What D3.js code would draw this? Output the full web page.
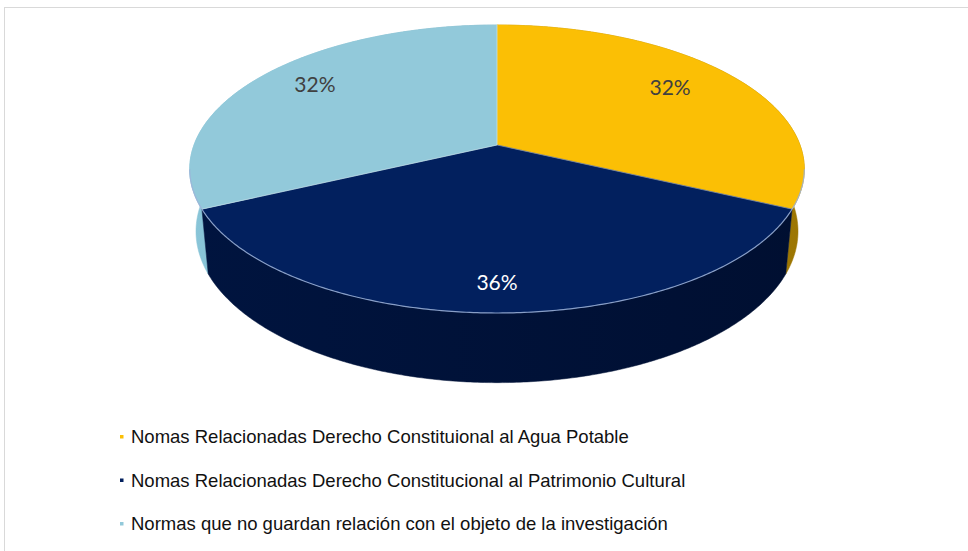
<!DOCTYPE html>
<html>
<head>
<meta charset="utf-8">
<script src="https://cdn.jsdelivr.net/npm/d3@7/dist/d3.min.js"></script>
<style>
  html, body { margin: 0; padding: 0; background: #ffffff; }
  svg { display: block; }
</style>
</head>
<body>
<svg id="chart" width="968" height="551"></svg>
<script>
// ---- data ----
const categories = [
  "Nomas Relacionadas Derecho Constituional al Agua Potable",
  "Nomas Relacionadas Derecho Constitucional al Patrimonio Cultural",
  "Normas que no guardan relación con el objeto de la investigación"
];
const values = [32, 36, 32];
const labels = ["32%", "36%", "32%"];

// ---- styles ----
const topColors  = ["#FBBF05", "#02205E", "#92C9DA"];
const sideColors = ["#B78A04", "#00123A", "#7DB4C6"];
const labelColors = ["#404040", "#ffffff", "#404040"];
const labelRadius = [0.72, 0.88, 0.76];

const svg = d3.select("#chart");

// outer frame
svg.append("rect")
  .attr("x", 4.5).attr("y", 7.5)
  .attr("width", 990).attr("height", 570)
  .attr("fill", "#ffffff")
  .attr("stroke", "#d9d9d9").attr("stroke-width", 1);

// ---- perspective projection of the 3D pie ----
const cx = 497, Y0 = 145;
const sinP = 0.462, cosP = Math.sqrt(1 - sinP * sinP);
const D = 6 * cosP, F = 303 * D, T = 0.234;
function proj(theta, r, y) {
  const u = r * Math.sin(theta), v = -r * Math.cos(theta);
  const depth = D - y * sinP - v * cosP;
  return [cx + F * u / depth, Y0 + F * (v * sinP - y * cosP) / depth];
}

const pie = d3.pie().sort(null).value(d => d)(values);

function rimPoints(a0, a1, y) {
  const n = Math.max(2, Math.ceil((a1 - a0) / 0.01));
  const pts = [];
  for (let i = 0; i <= n; i++) pts.push(proj(a0 + (a1 - a0) * i / n, 1, y));
  return pts;
}
const line = d3.line();

// side gradient defs
const defs = svg.append("defs");
pie.forEach((p, i) => {
  const g = defs.append("linearGradient").attr("id", "side" + i)
    .attr("gradientUnits", "userSpaceOnUse")
    .attr("x1", 190).attr("x2", 805).attr("y1", 0).attr("y2", 0);
  const c = d3.color(sideColors[i]);
  g.append("stop").attr("offset", "0%").attr("stop-color", c.brighter(0.25));
  g.append("stop").attr("offset", "100%").attr("stop-color", c.darker(0.45));
});

// outer walls (draw back first)
const walls = svg.append("g");
pie.map((p, i) => ({ p, i, mid: (p.startAngle + p.endAngle) / 2 }))
  .sort((a, b) => Math.abs(Math.PI - b.mid) - Math.abs(Math.PI - a.mid))
  .forEach(({ p, i }) => {
    const top = rimPoints(p.startAngle, p.endAngle, 0);
    const bot = rimPoints(p.startAngle, p.endAngle, -T).reverse();
    walls.append("path")
      .attr("d", line(top.concat(bot)) + "Z")
      .attr("fill", `url(#side${i})`)
      .attr("stroke", `url(#side${i})`).attr("stroke-width", 0.5);
  });

// top faces
const tops = svg.append("g");
const center = proj(0, 0, 0);
pie.forEach((p, i) => {
  const pts = [center].concat(rimPoints(p.startAngle, p.endAngle, 0));
  tops.append("path")
    .attr("d", line(pts) + "Z")
    .attr("fill", topColors[i])
    .attr("stroke", topColors[i]).attr("stroke-width", 0.6);
});
// slice separators
pie.forEach(p => {
  const e = proj(p.startAngle, 1, 0);
  tops.append("line")
    .attr("x1", center[0]).attr("y1", center[1])
    .attr("x2", e[0]).attr("y2", e[1])
    .attr("stroke", "rgba(255,255,255,0.35)").attr("stroke-width", 1);
});
// front rim highlight
const vis0 = Math.PI / 2 + 0.17, vis1 = 3 * Math.PI / 2 - 0.17;
tops.append("path")
  .attr("d", line(rimPoints(vis0, vis1, 0)))
  .attr("fill", "none")
  .attr("stroke", "#9db3d8").attr("stroke-width", 1.2).attr("opacity", 0.85);

// labels
pie.forEach((p, i) => {
  const mid = (p.startAngle + p.endAngle) / 2;
  const pos = proj(mid, labelRadius[i], 0);
  svg.append("text")
    .attr("x", pos[0]).attr("y", pos[1] - 8)
    .attr("text-anchor", "middle").attr("dominant-baseline", "central")
    .attr("font-family", "Lato, 'Open Sans', sans-serif")
    .attr("font-size", 21)
    .attr("fill", labelColors[i])
    .text(labels[i]);
});

// legend
const legend = svg.append("g");
const rowY = d3.scalePoint().domain(d3.range(categories.length)).range([443, 530]);
categories.forEach((c, i) => {
  const base = rowY(i);
  legend.append("rect")
    .attr("x", 120).attr("y", base - 8).attr("width", 3.5).attr("height", 3.5)
    .attr("fill", topColors[i]);
  legend.append("text")
    .attr("x", 131).attr("y", base)
    .attr("font-family", "'Liberation Sans', Arial, sans-serif")
    .attr("font-size", 18.5)
    .attr("fill", "#111111")
    .text(c);
});
</script>
</body>
</html>
